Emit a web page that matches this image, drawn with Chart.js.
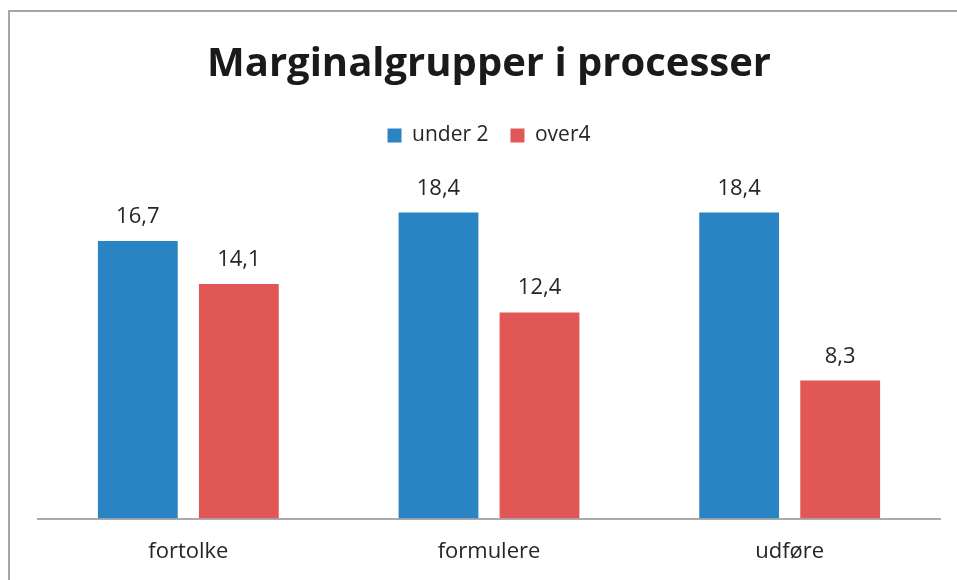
<!DOCTYPE html>
<html>
<head>
<meta charset="utf-8">
<script src="https://cdn.jsdelivr.net/npm/chart.js@4"></script>
<style>
  html, body { margin: 0; padding: 0; background: #fff; overflow: hidden; }
  #wrap { position: relative; width: 957px; height: 580px; }
  #frame { position: absolute; left: 8px; top: 10px; width: 1000px; height: 700px;
           border-top: 2px solid #a6a6a6; border-left: 2px solid #a6a6a6; }
  canvas { position: absolute; left: 0; top: 0; }
</style>
</head>
<body>
<div id="wrap">
  <div id="frame"></div>
  <canvas id="marginal" width="957" height="580"></canvas>
</div>
<script>
var categories = ['fortolke', 'formulere', 'udføre'];
var under2 = [16.7, 18.4, 18.4];
var over4 = [14.1, 12.4, 8.3];

// værdier over søjlerne, med komma som decimaltegn
var barLabels = {
  id: 'barLabels',
  afterDatasetsDraw: function (chart) {
    var ctx = chart.ctx;
    ctx.save();
    ctx.font = '22px "Open Sans"';
    ctx.fillStyle = '#262626';
    ctx.textAlign = 'center';
    ctx.textBaseline = 'alphabetic';
    chart.data.datasets.forEach(function (ds, i) {
      chart.getDatasetMeta(i).data.forEach(function (bar, j) {
        ctx.fillText(ds.data[j].toFixed(1).replace('.', ','), bar.x, bar.y - 18);
      });
    });
    ctx.restore();
  }
};

// ekstra luft under forklaringen
var legendSpace = {
  id: 'legendSpace',
  beforeInit: function (chart) {
    var fit = chart.legend.fit;
    chart.legend.fit = function () {
      fit.bind(chart.legend)();
      this.height += 30;
    };
  }
};

var ctx = document.getElementById('marginal').getContext('2d');
var myBarChart = new Chart(ctx, {
  type: 'bar',
  data: {
    labels: categories,
    datasets: [
      { label: 'under 2', data: under2, backgroundColor: '#2a83c2' },
      { label: 'over4', data: over4, backgroundColor: '#e05755' },
    ],
  },
  options: {
    responsive: false,
    maintainAspectRatio: false,
    animation: false,
    categoryPercentage: 0.672,
    barPercentage: 0.79,
    layout: { padding: { left: 38, right: 17, top: 0, bottom: -4 } },
    plugins: {
      title: {
        display: true,
        text: 'Marginalgrupper i processer',
        color: '#1a1a1a',
        font: { family: '"Open Sans"', size: 40, weight: 'bold' },
        padding: { top: 41, bottom: 14 },
      },
      legend: {
        position: 'top',
        labels: {
          boxWidth: 14,
          boxHeight: 14,
          padding: 22,
          color: '#262626',
          font: { family: '"Open Sans"', size: 21 },
        },
      },
      tooltip: { enabled: false },
    },
    scales: {
      y: { display: false, min: 0, max: 20 },
      x: {
        grid: { display: false, drawTicks: false },
        border: { display: true, color: '#ababab', width: 2 },
        ticks: { color: '#262626', padding: 25, font: { family: '"Open Sans"', size: 22, lineHeight: 0.7 } },
      },
    },
  },
  plugins: [barLabels, legendSpace],
});
</script>
</body>
</html>
